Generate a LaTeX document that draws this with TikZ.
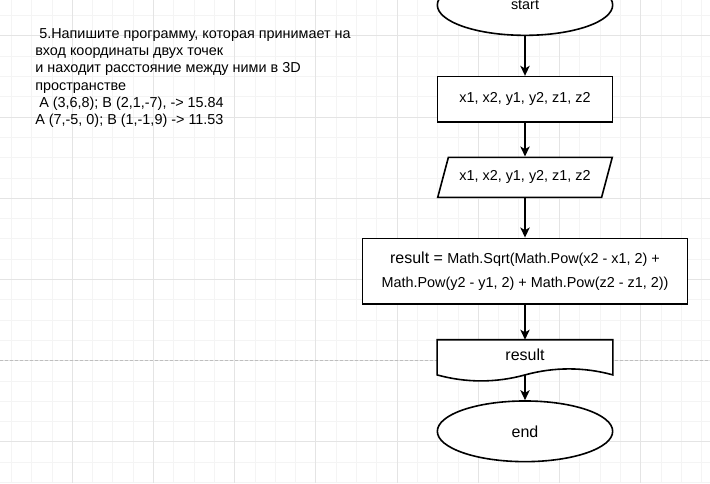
\documentclass[tikz,border=0pt]{standalone}
\usepackage{fontspec}
\setmainfont{Liberation Sans}
\usepackage{tikz}
\usetikzlibrary{shapes, arrows.meta, positioning, calc}
\definecolor{gridminor}{RGB}{244,244,244}
\definecolor{gridmajor}{RGB}{228,228,228}
\definecolor{pagebreak}{RGB}{190,190,190}

\begin{document}
\begin{tikzpicture}[
  x=0.75pt, y=-0.75pt,
  tbox/.style={draw, fill=white, ellipse, line width=1.2pt, minimum width=131.5pt, minimum height=45.5pt, inner sep=0pt, font=\fontsize{10.8}{13}\selectfont},
  pbox/.style={draw, fill=white, rectangle, line width=1.2pt, inner sep=0pt, align=center, font=\fontsize{10.8}{17.5}\selectfont},
  iobox/.style={draw, fill=white, trapezium, trapezium left angle=55, trapezium right angle=125, trapezium stretches=true, line width=1.2pt, minimum width=131pt, minimum height=30pt, inner sep=0pt, font=\fontsize{10.8}{13}\selectfont},
  dbox/.style={rectangle, minimum width=131.5pt, minimum height=26pt, inner sep=0pt, font=\fontsize{12}{14}\selectfont},
  arr/.style={-{Stealth[length=7.5pt, width=7pt, inset=2pt]}, line width=1.2pt}
]
  \useasboundingbox (0,0) rectangle (710,483);
  \clip (0,0) rectangle (710,483);
  \fill[white] (0,0) rectangle (710,483);
  \foreach \i in {0,...,35} {
    \draw[gridminor, line width=0.75pt] ({11.4+20.3*\i},0) -- ++(0,483);
  }
  \foreach \j in {0,...,24} {
    \draw[gridminor, line width=0.75pt] (0,{15.6+20.3*\j}) -- ++(710,0);
  }
  \foreach \i in {0,...,8} {
    \draw[gridmajor, line width=0.75pt] ({72.3+81.2*\i},0) -- ++(0,483);
  }
  \foreach \j in {0,...,5} {
    \draw[gridmajor, line width=0.75pt] (0,{35.9+81.2*\j}) -- ++(710,0);
  }
  \draw[pagebreak, line width=0.75pt, dash pattern=on 2.25pt off 1.5pt] (0,360.6) -- (710,360.6);

  \node[anchor=north west, inner sep=0pt, align=left, font=\fontsize{10.8}{13}\selectfont] (task) at (35,28) {
    \hspace*{3pt}5.Напишите программу, которая принимает на\\
    вход координаты двух точек\\
    и находит расстояние между ними в 3D\\
    пространстве\\
    \hspace*{3pt}A (3,6,8); B (2,1,-7), -> 15.84\\
    A (7,-5, 0); B (1,-1,9) -> 11.53
  };

  \node[tbox] (start) at (525,5) {start};
  \node[pbox, minimum width=131pt, minimum height=34pt] (vars) at (525,99.3) {x1, x2, y1, y2, z1, z2};
  \node[iobox] (input) at (525,177.3) {x1, x2, y1, y2, z1, z2};
  \node[pbox, minimum width=243.75pt, minimum height=49.3pt] (calc) at (525,271.2) {
    {\fontsize{12}{17.5}\selectfont result = }Math.Sqrt(Math.Pow(x2 - x1, 2) +\\
    Math.Pow(y2 - y1, 2) + Math.Pow(z2 - z1, 2))
  };
  \node[dbox] (outp) at (525,357.3) {};
  \draw[fill=white, line width=1.2pt] (outp.south west) -- (outp.north west) -- (outp.north east) -- (outp.south east)
    .. controls +(-29,-8) and +(29,-8) .. (outp.south)
    .. controls +(-29,8) and +(29,8) .. (outp.south west) -- cycle;
  \node[dbox, yshift=2.2pt] at (outp) {result};
  \node[tbox, font=\fontsize{12}{14}\selectfont] (end) at (525,431.3) {end};

  \draw[arr] (start) -- (vars);
  \draw[arr] (vars) -- (input);
  \draw[arr] (input) -- (calc);
  \draw[arr] (calc) -- (outp.north);
  \draw[arr] (outp.south) -- (end);
\end{tikzpicture}
\end{document}
